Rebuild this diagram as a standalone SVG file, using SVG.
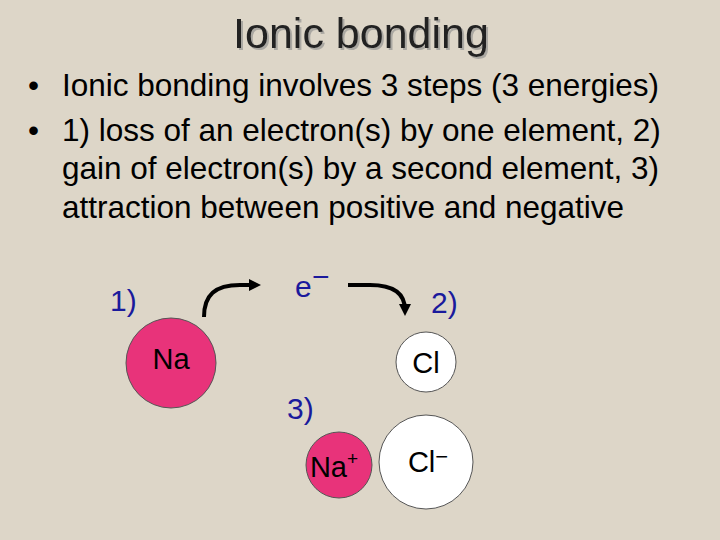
<svg xmlns="http://www.w3.org/2000/svg" width="720" height="540" viewBox="0 0 720 540">
<style>
text{font-family:"Liberation Sans",Arial,sans-serif}
.b{font-size:31.5px;fill:#000}
.l{font-size:30px;fill:#1a1a9c}
.n{font-size:29px;fill:#000;text-anchor:middle}
.pk{fill:#e8337a;stroke:#555;stroke-width:1}
.wh{fill:#fff;stroke:#555;stroke-width:1}
.c{fill:none;stroke:#000;stroke-width:4}
</style>
<defs><marker id="a" viewBox="0 0 10 10" refX="5" refY="5" markerWidth="3" markerHeight="3" orient="auto"><path d="M0,0L10,5L0,10z" fill="#000"/></marker>
<filter id="sh" x="-10%" y="-20%" width="120%" height="150%"><feDropShadow dx="2" dy="2" stdDeviation="0.5" flood-color="#888" flood-opacity="0.6"/></filter></defs>
<rect width="720" height="540" fill="#ddd6c8"/>
<text x="361" y="48" text-anchor="middle" font-size="43" fill="#222" filter="url(#sh)">Ionic bonding</text>
<text class="b" x="28" y="96">•</text><text class="b" x="62" y="96">Ionic bonding involves 3 steps (3 energies)</text>
<text class="b" x="28" y="141">•</text><text class="b" x="62" y="141">1) loss of an electron(s) by one element, 2)</text>
<text class="b" x="62" y="179">gain of electron(s) by a second element, 3)</text>
<text class="b" x="62" y="218">attraction between positive and negative</text>
<g id="connectors">
<path class="c" d="M204,317 C204,295 215,285 240,285 L255,285" marker-end="url(#a)"/>
<path class="c" d="M348,285 L370,285 C395,285 405,295 405,310" marker-end="url(#a)"/>
</g>
<g id="l1"><text class="l" x="110" y="311">1)</text></g>
<g id="l2"><text class="l" x="431" y="313">2)</text></g>
<g id="l3"><text class="l" x="287" y="419">3)</text></g>
<g id="e"><text class="l" x="295" y="297">e</text><text class="l" x="312" y="287" font-size="22">−</text></g>
<g id="na"><circle class="pk" cx="171" cy="363" r="45"/><text class="n" x="171" y="369">Na</text></g>
<g id="cl"><circle class="wh" cx="426" cy="362" r="30"/><text class="n" x="426" y="373">Cl</text></g>
<g id="nap"><circle class="pk" cx="339" cy="465" r="33"/><text class="n" x="334" y="477">Na<tspan font-size="19" dy="-12">+</tspan></text></g>
<g id="clm"><circle class="wh" cx="426" cy="462" r="47"/><text class="n" x="428" y="472">Cl<tspan font-size="22" dy="-8">−</tspan></text></g>
</svg>
